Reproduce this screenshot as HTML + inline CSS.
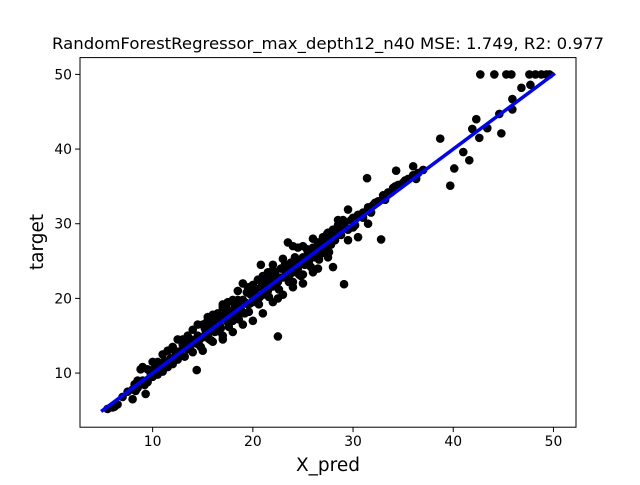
<!DOCTYPE html>
<html><head><meta charset="utf-8"><style>
html,body{margin:0;padding:0;background:#fff}
svg text{font-family:"DejaVu Sans","Liberation Sans",sans-serif}
</style></head><body>
<svg id="chart" width="640" height="480" viewBox="0 0 640 480" xmlns="http://www.w3.org/2000/svg">
<rect width="640" height="480" fill="#fff"/>
<text x="328" y="49" font-size="16" text-anchor="middle" textLength="552" lengthAdjust="spacingAndGlyphs">RandomForestRegressor_max_depth12_n40 MSE: 1.749, R2: 0.977</text>
<g id="points"></g>
<g id="fit"></g>
<rect x="80" y="57.6" width="496" height="369.6" fill="none" stroke="#000" stroke-width="1"/>
<g id="xticks"></g>
<g id="yticks"></g>
<text x="328" y="471" font-size="18.5" text-anchor="middle">X_pred</text>
<text x="43" y="242" font-size="18.5" text-anchor="middle" transform="rotate(-90 43 242)">target</text>
</svg>
<script>
const xTicks=[10,20,30,40,50];
const yTicks=[10,20,30,40,50];
const fitLine=[[5,5],[50,50]];
const points=[
[5.5,5.2],[6,5.4],[6.5,5.8],[7.5,7.5],[8,6.5],[8.2,8.5],[8.5,8],[8.8,10.5],[9,9],[9.3,7.2],[9.5,8.8],[9.8,10],[10,9.5],[10.2,10.6],[10.5,9.8],[10.8,10.9],[11,10.2],[11.3,11.5],[11.5,10.8],[11.8,12],[12,11.2],[12.2,13],[12.5,11.8],[12.8,12.5],[13,13.8],[13.2,12.2],[13.5,13.2],[13.8,14.5],[14,12.8],[14.2,14],[14.5,15],[14.8,13.5],[15,14.8],[15.2,16],[15.5,15.2],[15.8,14.4],[16,16.5],[16.2,15.5],[16.5,17.2],[16.8,16],[17,15],[17.2,17.8],[17.5,16.8],[17.8,18.2],[18,17],[18.2,19],[18.5,17.6],[18.8,18.5],[19,19.8],[19.2,18],[19.5,19.2],[19.8,20.5],[20,19.5],[20.2,21],[20.5,19.8],[20.8,21.5],[21,20.5],[21.2,22.3],[21.5,21],[21.8,22.8],[22,21.6],[22.2,23.5],[22.5,22.2],[22.8,24],[23,22.8],[23.2,24.5],[23.5,23],[23.8,24.8],[24,23.5],[24.2,25.5],[24.5,24],[24.8,23],[25,25.5],[25.2,24.5],[25.5,26.2],[25.8,24.2],[26,26.8],[26.2,25.5],[26.5,27.5],[26.8,26],[27,28.2],[27.2,26.8],[27.5,28.8],[27.8,27.2],[28,29.2],[28.2,27.8],[28.5,29.8],[28.8,28.5],[29,30.5],[29.5,29.2],[30,30.8],[30.2,29.8],[30.5,31.2],[31,31.5],[31.5,32.2],[32,32.5],[32.5,33],[33,33.8],[33.5,34.2],[34,34.8],[34.5,35.2],[35,35.5],[35.5,36],[36,36.5],[36.5,36.8],[37,37.2],
[15,13],[16,14.2],[17,14.5],[18,15.5],[19,16.5],[20,17],[21,18],[22,19.5],[23,20.5],[24,21.5],[25,22],[22.5,20],[25,23.2],[26.5,24],[27.5,25.5],[28,24.2],[26,23.5],[24,22.2],[29.5,27.8],[30.5,28.2],[31.5,30],[14,15.8],[16,17.8],[18,19.8],[20,21.8],[22,23.8],[23.5,27.5],[24,27],[20.8,24.5],[18.5,21],[12.5,14.5],[10,11.5],[19,22],[21,23],[17,18.8],[15.5,17.5],[13,14.5],[11.5,13],[9,10.8],[8,7.8],[7,6.8],[6.2,5.5],[27,28],[28.5,30.5],[29.8,30.5],[26,28],[25,27],[24.5,26.8],[23,25.3],[22,24.5],[21.5,23.5],[20.5,22.5],[19.5,21.5],[18.5,19.8],[17.5,19.5],[16.5,18],[15,16.5],[14.5,16.5],[13.5,15],[12,13.5],[11,12.5],[10.5,11.5],[9.5,10.5],[8.5,9],
[8.3,7.6],[9.2,8.4],[10.3,10.2],[11.2,11.6],[12.3,12.3],[13.3,13.6],[14.3,14.4],[15.3,15.6],[16.3,16.4],[17.3,17.4],[18.3,18.4],[19.3,19.4],[20.3,20.4],[21.3,21.4],[22.3,22.4],[23.3,23.4],[24.3,24.4],[25.3,25.4],[26.3,26.4],[27.3,27.4],[28.3,28.4],[29.3,29.4],
[10.7,10.3],[11.7,11.4],[12.7,12.9],[13.7,13.3],[14.7,14.5],[15.7,15.9],[16.7,16.4],[17.7,17.2],[18.7,18.9],[19.7,19.3],[20.7,20.2],[21.7,21.9],[22.7,22.8],[23.7,23.2],[24.7,24.9],[25.7,25.3],[26.7,26.8],[27.7,27.9],[28.7,29.2],
[14.6,13.8],[15.6,14.6],[16.6,15.6],[17.6,16.2],[18.6,17.2],[19.6,18.2],[20.6,19.2],[21.6,20.2],[22.6,21.2],[23.6,22.2],[24.6,23.2],[25.6,24.6],[26.6,25.2],[27.6,26.2],
[13.4,14.2],[15.4,16.8],[17.4,18.6],[19.4,20.8],[21.4,22.8],[23.4,24.2],[25.4,26.6],[27.4,28.6],[29.2,30.2],[30.8,31],[32.2,32.8],[33.2,33.2],[34.2,35],[35.2,35.8],
[15.8,17.5],[17,19.2],[18,18],[20,20.5],[22,22.5],[24,24.2],[26,26],[28,28],[30,29.5],[31,30.8],[31.8,31.5],[33.8,34.2]
,
[42.7,50],[44.1,50],[45.3,50],[45.8,50],[47.6,50],[48.2,50],[48.8,50],[49.3,50],[49.6,50],[46.8,48.2],[47.7,48.6],[45.9,46.7],[45.9,45.3],[44.6,44.7],[44.8,42.1],[42.3,44],[41.9,42.7],[42.6,41.5],[43.4,42.8],[38.7,41.4],[41,39.6],[41.6,38.5],[40.1,37.4],[39.7,35.1],[34.3,37.1],[36,37.7],[36.3,36],[31.4,36.1],[32.8,27.9],[29.5,31.9],[29.1,21.9],[22.5,14.9],[14.4,10.4]
];
const X0=2.75,X1=52.25,Y0=2.75,Y1=52.25,L=80,R=576,T=57.6,B=427.2;
function sx(v){return L+(v-X0)/(X1-X0)*(R-L);}
function sy(v){return B-(v-Y0)/(Y1-Y0)*(B-T);}
const NS="http://www.w3.org/2000/svg";
const pg=document.getElementById('points');
points.forEach(p=>{const c=document.createElementNS(NS,'circle');


c.setAttribute('cx',sx(p[0]));c.setAttribute('cy',sy(p[1]));c.setAttribute('r',4.3);c.setAttribute('fill','#000');pg.appendChild(c);});
const ln=document.createElementNS(NS,'line');


ln.setAttribute('x1',sx(fitLine[0][0]));ln.setAttribute('y1',sy(fitLine[0][1]));ln.setAttribute('x2',sx(fitLine[1][0]));ln.setAttribute('y2',sy(fitLine[1][1]));
ln.setAttribute('stroke','#0000ff');ln.setAttribute('stroke-width','3.5');ln.setAttribute('stroke-linecap','square');
document.getElementById('fit').appendChild(ln);
const xg=document.getElementById('xticks');
xTicks.forEach(t=>{const x=sx(t);
const l=document.createElementNS(NS,'line');


l.setAttribute('x1',x);l.setAttribute('x2',x);l.setAttribute('y1',B);l.setAttribute('y2',B+4.9);l.setAttribute('stroke','#000');xg.appendChild(l);
const tx=document.createElementNS(NS,'text');


tx.setAttribute('x',x);tx.setAttribute('y',B+19);tx.setAttribute('font-size','13.9');tx.setAttribute('text-anchor','middle');tx.textContent=t;xg.appendChild(tx);});
const yg=document.getElementById('yticks');
yTicks.forEach(t=>{const y=sy(t);
const l=document.createElementNS(NS,'line');


l.setAttribute('x1',L-4.9);l.setAttribute('x2',L);l.setAttribute('y1',y);l.setAttribute('y2',y);l.setAttribute('stroke','#000');yg.appendChild(l);
const tx=document.createElementNS(NS,'text');


tx.setAttribute('x',L-8);tx.setAttribute('y',y+5);tx.setAttribute('font-size','13.9');tx.setAttribute('text-anchor','end');tx.textContent=t;yg.appendChild(tx);});
</script>
</body></html>
